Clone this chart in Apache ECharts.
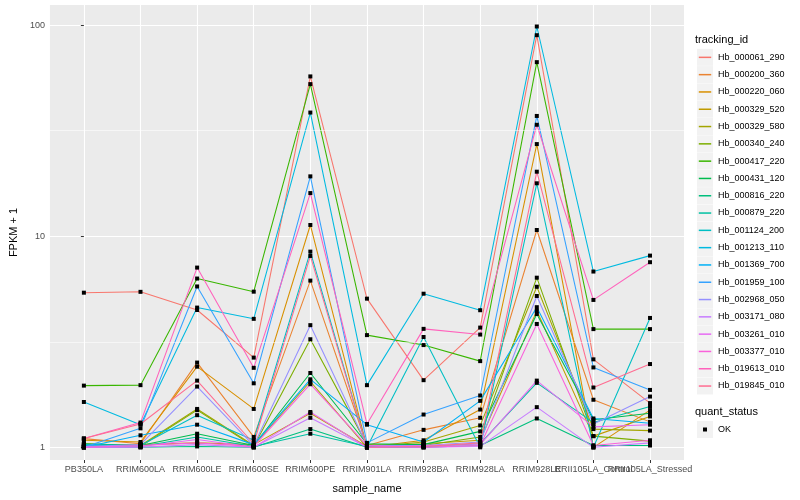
<!DOCTYPE html>
<html><head><meta charset="utf-8">
<script src="https://cdn.jsdelivr.net/npm/echarts@6/dist/echarts.min.js"></script>
<style>html,body{margin:0;padding:0;background:#fff}#c{width:800px;height:500px}</style>
</head><body><div id="c"></div>
<script>
const categories = ['PB350LA','RRIM600LA','RRIM600LE','RRIM600SE','RRIM600PE','RRIM901LA','RRIM928BA','RRIM928LA','RRIM928LE','RRII105LA_Control','RRII105LA_Stressed'];
const trackingIds = ['Hb_000061_290','Hb_000200_360','Hb_000220_060','Hb_000329_520','Hb_000329_580','Hb_000340_240','Hb_000417_220','Hb_000431_120','Hb_000816_220','Hb_000879_220','Hb_001124_200','Hb_001213_110','Hb_001369_700','Hb_001959_100','Hb_002968_050','Hb_003171_080','Hb_003261_010','Hb_003377_010','Hb_019613_010','Hb_019845_010'];
const colors = ['#F8766D','#EA8331','#D89000','#C09B00','#A3A500','#7CAE00','#39B600','#00BB4E','#00BF7D','#00C1A3','#00BFC4','#00BAE0','#00B0F6','#35A2FF','#9590FF','#C77CFF','#E76BF3','#FA62DB','#FF62BC','#FF6C91'];
const yTickValues = [1, 10, 100];
const yMinorGrid = [3.162, 31.62];
const statusLevels = ['OK'];

const hb_000061_290 = [5.40, 5.45, 4.47, 2.66, 57.1, 5.06, 2.08, 3.69, 89.5, 2.61, 1.62];
const hb_000200_360 = [1.10, 1.04, 2.52, 1.12, 6.16, 1.02, 1.21, 1.38, 10.7, 1.68, 1.32];
const hb_000220_060 = [1.08, 1.06, 2.41, 1.52, 11.3, 1.00, 1.08, 1.51, 27.3, 1.00, 1.50];
const hb_000329_520 = [1.02, 1.03, 1.05, 1.03, 1.45, 1.01, 1.04, 1.08, 4.43, 1.13, 1.40];
const hb_000329_580 = [1.04, 1.02, 1.52, 1.02, 2.05, 1.00, 1.06, 1.27, 5.76, 1.22, 1.20];
const hb_000340_240 = [1.01, 1.01, 1.50, 1.01, 3.25, 1.03, 1.02, 1.12, 6.36, 1.13, 1.07];
const hb_000417_220 = [1.96, 1.97, 6.30, 5.46, 52.5, 3.40, 3.05, 2.56, 66.7, 3.63, 3.63];
const hb_000431_120 = [1.04, 1.02, 1.16, 1.02, 2.25, 1.04, 1.03, 1.19, 4.28, 1.35, 1.45];
const hb_000816_220 = [1.00, 1.00, 1.01, 1.00, 1.22, 1.00, 1.00, 1.02, 1.37, 1.02, 1.02];
const hb_000879_220 = [1.02, 1.01, 1.12, 1.01, 1.16, 1.01, 1.01, 1.04, 2.02, 1.31, 1.56];
const hb_001124_200 = [1.03, 1.02, 1.42, 1.08, 8.45, 1.00, 3.33, 1.00, 17.8, 1.00, 4.10];
const hb_001213_110 = [1.64, 1.28, 4.59, 4.06, 38.5, 1.97, 5.34, 4.46, 98.4, 6.80, 8.09];
const hb_001369_700 = [1.00, 1.14, 1.28, 1.03, 2.10, 1.28, 1.06, 1.66, 4.61, 1.37, 1.30];
const hb_001959_100 = [1.00, 1.23, 5.78, 2.01, 19.2, 1.05, 1.43, 1.76, 37.1, 2.39, 1.87];
const hb_002968_050 = [1.01, 1.03, 1.94, 1.02, 3.79, 1.02, 1.02, 1.06, 5.21, 1.29, 1.74];
const hb_003171_080 = [1.00, 1.00, 1.03, 1.00, 1.38, 1.00, 1.00, 1.01, 1.55, 1.00, 1.05];
const hb_003261_010 = [1.00, 1.01, 1.09, 1.00, 1.47, 1.00, 1.02, 1.03, 2.07, 1.25, 1.28];
const hb_003377_010 = [1.00, 1.02, 1.05, 1.01, 1.99, 1.02, 1.00, 1.02, 3.84, 1.02, 1.08];
const hb_019613_010 = [1.10, 1.31, 7.10, 2.38, 16.0, 1.29, 3.64, 3.42, 33.7, 4.99, 7.53];
const hb_019845_010 = [1.10, 1.29, 2.07, 1.04, 8.06, 1.00, 1.01, 1.05, 20.2, 1.92, 2.48];

const seriesValues = [hb_000061_290, hb_000200_360, hb_000220_060, hb_000329_520, hb_000329_580, hb_000340_240, hb_000417_220, hb_000431_120, hb_000816_220, hb_000879_220, hb_001124_200, hb_001213_110, hb_001369_700, hb_001959_100, hb_002968_050, hb_003171_080, hb_003261_010, hb_003377_010, hb_019613_010, hb_019845_010];

const catIdx = categories.map((c, i) => i);
const evenIdx = catIdx.filter(i => i % 2 === 0);
const oddIdx = catIdx.filter(i => i % 2 === 1);
const FONT = "'Liberation Sans', Arial, Helvetica, sans-serif";

const lineSeries = trackingIds.map((id, i) => ({
  name: id, type: 'line', symbol: 'none', z: 2,
  data: seriesValues[i].map((v, j) => [j, v]),
  lineStyle: { width: 1.07, color: colors[i] },
  itemStyle: { color: colors[i] }
}));

const pointData = [];
seriesValues.forEach(arr => arr.forEach((v, j) => pointData.push([j, v])));

const gridHelper = {
  name: '_grid', type: 'line', data: [], z: 1, silent: true,
  markLine: {
    silent: true, symbol: ['none', 'none'], label: { show: false },
    lineStyle: { color: '#ffffff', width: 0.55, type: 'solid' },
    data: yMinorGrid.map(v => ({ yAxis: v }))
  }
};

const legendTop = 48.8, legendStep = 17.3;
const keyBoxes = trackingIds.map((id, i) => ({
  type: 'rect', z: 0, silent: true,
  shape: { x: 697, y: legendTop + i * legendStep, width: 16, height: 17 },
  style: { fill: '#F2F2F2' }
}));
const lineIcon = 'path://M0,0M1.8,7.8H14.2V9.3H1.8ZM16,17';

const xLabelStyle = { color: '#4D4D4D', fontSize: 9, margin: 5, fontFamily: FONT, hideOverlap: false, showMinLabel: true, showMaxLabel: true, formatter: v => categories[Math.round(v)] };

const chart = echarts.init(document.getElementById('c'), null, { renderer: 'canvas' });
chart.setOption({
  animation: false,
  backgroundColor: '#ffffff',
  textStyle: { fontFamily: FONT },
  grid: { left: 40, right: 116, top: 5, bottom: 40, show: true, backgroundColor: '#EBEBEB', borderWidth: 0 },
  xAxis: [{
    type: 'value', min: -0.6, max: 10.6, position: 'bottom',
    axisLine: { show: false },
    axisTick: { show: true, customValues: catIdx, length: 3, lineStyle: { color: '#333333', width: 1 } },
    axisLabel: Object.assign({ customValues: evenIdx }, xLabelStyle),
    splitLine: { show: true, lineStyle: { color: '#ffffff', width: 1.1 } },
    name: 'sample_name', nameLocation: 'middle', nameGap: 23,
    nameTextStyle: { color: '#000', fontSize: 11, fontFamily: FONT }
  }, {
    type: 'value', min: -0.6, max: 10.6, position: 'bottom', offset: 0,
    axisLine: { show: false }, axisTick: { show: false }, splitLine: { show: false },
    axisLabel: Object.assign({ customValues: oddIdx }, xLabelStyle)
  }],
  yAxis: {
    type: 'log', logBase: 10, min: 0.871, max: 124.4,
    axisLine: { show: false },
    axisTick: { show: true, customValues: yTickValues, length: 3, lineStyle: { color: '#333333', width: 1 } },
    axisLabel: { customValues: yTickValues, color: '#4D4D4D', fontSize: 9, margin: 5, fontFamily: FONT },
    splitLine: { show: true, lineStyle: { color: '#ffffff', width: 1.1 } },
    name: 'FPKM + 1', nameLocation: 'middle', nameGap: 24, nameRotate: 90,
    nameTextStyle: { color: '#000', fontSize: 11, fontFamily: FONT }
  },
  legend: [{
    data: trackingIds.map(id => ({ name: id, icon: lineIcon })), orient: 'vertical', left: 697, top: legendTop,
    itemWidth: 16, itemHeight: 17, itemGap: legendStep - 17, padding: 0,
    textStyle: { fontSize: 9, color: '#000', fontFamily: FONT }, selectedMode: false
  }, {
    data: [{ name: 'OK', icon: 'path://M0,0M6,6.5H10V10.5H6ZM16,17' }],
    orient: 'vertical', left: 697, top: 421, itemWidth: 16, itemHeight: 17, padding: 0,
    textStyle: { fontSize: 9, color: '#000', fontFamily: FONT }, selectedMode: false
  }],
  graphic: keyBoxes.concat([
    { type: 'rect', z: 0, silent: true, shape: { x: 697, y: 421, width: 16, height: 17 }, style: { fill: '#F2F2F2' } },
    { type: 'text', left: 695, top: 34, style: { text: 'tracking_id', fill: '#000', font: '11px ' + FONT } },
    { type: 'text', left: 695, top: 406, style: { text: 'quant_status', fill: '#000', font: '11px ' + FONT } }
  ]),
  series: [gridHelper].concat(lineSeries).concat([{
    name: statusLevels[0], type: 'scatter', z: 5, symbol: 'rect', symbolSize: 4,
    data: pointData, itemStyle: { color: '#000000', opacity: 1 }
  }])
});
</script></body></html>
